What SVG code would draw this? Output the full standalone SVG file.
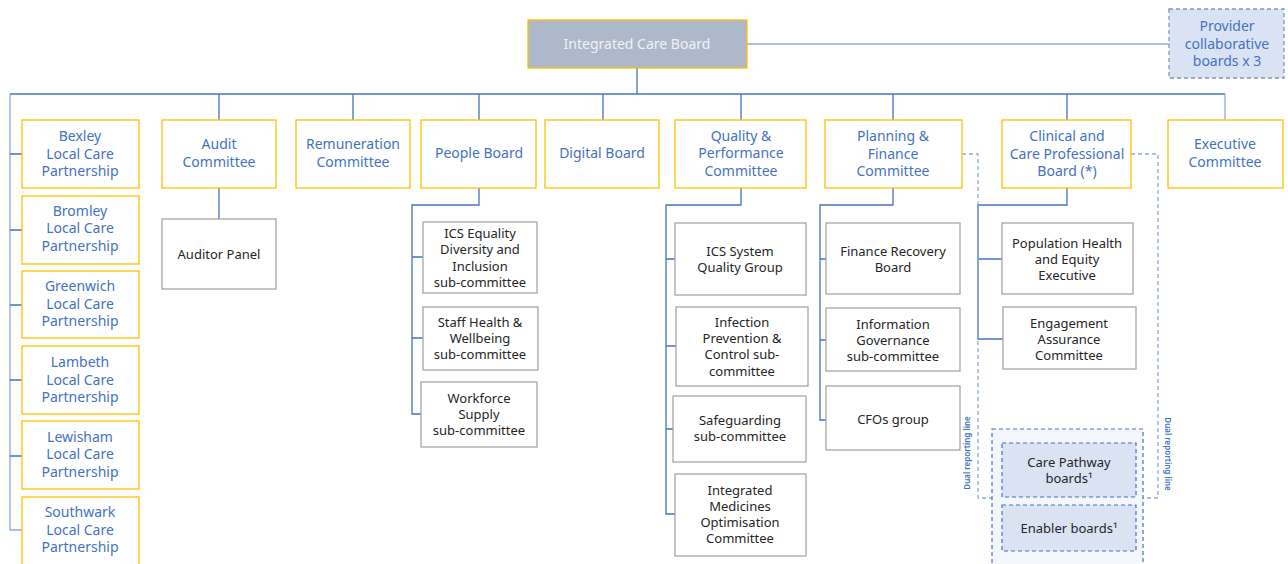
<svg xmlns="http://www.w3.org/2000/svg" width="1288" height="564" viewBox="0 0 1288 564">
  <style>
    text { font-family: "Noto Sans", "Liberation Sans", sans-serif; text-anchor: middle; }
    .top rect { fill: #ffffff; stroke: #ffc000; stroke-width: 1.3; }
    .top text { fill: #4472c4; font-size: 14px; }
    .sub rect { fill: #ffffff; stroke: #a6a6a6; stroke-width: 1.3; }
    .sub text { fill: #262626; font-size: 13px; }
    .link { fill: none; stroke: #4472c4; stroke-width: 1.3; }
    .soft { stroke: #8faadc; }
    .dash { fill: none; stroke: #8faadc; stroke-width: 1.3; stroke-dasharray: 4 3; }
    .side { fill: #4472c4; font-size: 8px; font-weight: 600; }
    .pale rect { fill: #dae3f3; stroke: #4472c4; stroke-width: 1.2; stroke-dasharray: 4 3; }
    .pale text { fill: #262626; font-size: 13px; }
  </style>

  <!-- connectors -->
  <g id="connectors">
    <path class="link" d="M637 68 V94"/>
    <path class="link soft" d="M747 44 H1169"/>
    <path class="link" d="M10 94 H1225"/>
    <path class="link soft" d="M10 94 V530 H22"/>
    <path class="link" d="M10 154 H22 M10 230 H22 M10 305 H22 M10 380 H22 M10 456 H22"/>
    <path class="link" d="M219 94 V120 M353 94 V120 M479 94 V120 M603 94 V120 M741 94 V120 M893 94 V120 M1067 94 V120"/>
    <path class="link soft" d="M1225 94 V120"/>
    <path class="link" d="M219 188 V219"/>
    <!-- People Board -->
    <path class="link" d="M479 188 V205 H412 V414 H421 M412 257 H423 M412 338 H423"/>
    <!-- Quality & Performance -->
    <path class="link" d="M741 188 V205 H666 V514 H675 M666 259 H675 M666 346 H676 M666 429 H673"/>
    <!-- Planning & Finance -->
    <path class="link" d="M893 188 V205 H820 V420 H826 M820 259 H826 M820 340 H826"/>
    <!-- Clinical and Care Professional -->
    <path class="link" d="M1067 188 V205 H978 V339 H1003 M978 259 H1002"/>
    <!-- dual reporting lines -->
    <path class="dash" d="M962 154 H978 V498 H992"/>
    <path class="dash" d="M1131 154 H1158 V498 H1143"/>
    <text class="side" transform="translate(970 453) rotate(-90)">Dual reporting line</text>
    <text class="side" transform="translate(1165 454) rotate(90)">Dual reporting line</text>
  </g>

  <g id="icb">
    <rect x="528" y="20" width="219" height="48" fill="#adb9ca" stroke="#ffc000" stroke-width="1.3"/>
    <text x="637" y="49" fill="#eef1f6" font-size="14">Integrated Care Board</text>
  </g>

  <g id="provider">
    <rect x="1169" y="9" width="115" height="69" fill="#dae3f3" stroke="#8497b0" stroke-width="1.3" stroke-dasharray="4 3"/>
    <text x="1227" y="31" fill="#4472c4" font-size="14">Provider</text>
    <text x="1227" y="48.5" fill="#4472c4" font-size="14">collaborative</text>
    <text x="1227" y="66" fill="#4472c4" font-size="14">boards x 3</text>
  </g>

  <!-- local care partnerships -->
  <g id="bexley" class="top">
    <rect x="22" y="120" width="117" height="68"/>
    <text x="80" y="141">Bexley</text><text x="80" y="159">Local Care</text><text x="80" y="176">Partnership</text>
  </g>
  <g id="bromley" class="top">
    <rect x="22" y="196" width="117" height="68"/>
    <text x="80" y="216">Bromley</text><text x="80" y="233">Local Care</text><text x="80" y="251">Partnership</text>
  </g>
  <g id="greenwich" class="top">
    <rect x="22" y="271" width="117" height="67"/>
    <text x="80" y="291">Greenwich</text><text x="80" y="309">Local Care</text><text x="80" y="326">Partnership</text>
  </g>
  <g id="lambeth" class="top">
    <rect x="22" y="346" width="117" height="68"/>
    <text x="80" y="367">Lambeth</text><text x="80" y="385">Local Care</text><text x="80" y="402">Partnership</text>
  </g>
  <g id="lewisham" class="top">
    <rect x="22" y="421" width="117" height="68"/>
    <text x="80" y="442">Lewisham</text><text x="80" y="459">Local Care</text><text x="80" y="477">Partnership</text>
  </g>
  <g id="southwark" class="top">
    <rect x="22" y="497" width="117" height="72"/>
    <text x="80" y="517">Southwark</text><text x="80" y="535">Local Care</text><text x="80" y="552">Partnership</text>
  </g>

  <!-- committees -->
  <g id="audit" class="top">
    <rect x="162" y="120" width="114" height="68"/>
    <text x="219" y="149">Audit</text><text x="219" y="167">Committee</text>
  </g>
  <g id="remuneration" class="top">
    <rect x="296" y="120" width="114" height="68"/>
    <text x="353" y="149">Remuneration</text><text x="353" y="167">Committee</text>
  </g>
  <g id="people" class="top">
    <rect x="421" y="120" width="115" height="68"/>
    <text x="479" y="158">People Board</text>
  </g>
  <g id="digital" class="top">
    <rect x="545" y="120" width="114" height="68"/>
    <text x="602" y="158">Digital Board</text>
  </g>
  <g id="quality" class="top">
    <rect x="675" y="120" width="131" height="68"/>
    <text x="741" y="141">Quality &amp;</text><text x="741" y="158">Performance</text><text x="741" y="176">Committee</text>
  </g>
  <g id="planning" class="top">
    <rect x="825" y="120" width="137" height="68"/>
    <text x="893" y="141">Planning &amp;</text><text x="893" y="159">Finance</text><text x="893" y="176">Committee</text>
  </g>
  <g id="clinical" class="top">
    <rect x="1002" y="120" width="129" height="68"/>
    <text x="1067" y="141">Clinical and</text><text x="1067" y="159">Care Professional</text><text x="1067" y="176">Board (*)</text>
  </g>
  <g id="executive" class="top">
    <rect x="1168" y="120" width="115" height="68"/>
    <text x="1225" y="149">Executive</text><text x="1225" y="167">Committee</text>
  </g>

  <!-- sub-groups -->
  <g id="auditor-panel" class="sub">
    <rect x="162" y="219" width="114" height="70"/>
    <text x="219" y="259">Auditor Panel</text>
  </g>
  <g id="ics-edi" class="sub">
    <rect x="423" y="222" width="114" height="71"/>
    <text x="480" y="238">ICS Equality</text><text x="480" y="254">Diversity and</text><text x="480" y="271">Inclusion</text><text x="480" y="287">sub-committee</text>
  </g>
  <g id="staff-health" class="sub">
    <rect x="423" y="307" width="115" height="63"/>
    <text x="480" y="327">Staff Health &amp;</text><text x="480" y="343">Wellbeing</text><text x="480" y="359">sub-committee</text>
  </g>
  <g id="workforce" class="sub">
    <rect x="421" y="382" width="116" height="65"/>
    <text x="479" y="403">Workforce</text><text x="479" y="419">Supply</text><text x="479" y="435">sub-committee</text>
  </g>
  <g id="ics-quality" class="sub">
    <rect x="675" y="223" width="131" height="72"/>
    <text x="740" y="256">ICS System</text><text x="740" y="272">Quality Group</text>
  </g>
  <g id="infection" class="sub">
    <rect x="676" y="307" width="132" height="79"/>
    <text x="742" y="327">Infection</text><text x="742" y="343">Prevention &amp;</text><text x="742" y="359">Control sub-</text><text x="742" y="376">committee</text>
  </g>
  <g id="safeguarding" class="sub">
    <rect x="673" y="396" width="133" height="66"/>
    <text x="740" y="425">Safeguarding</text><text x="740" y="441">sub-committee</text>
  </g>
  <g id="medicines" class="sub">
    <rect x="675" y="474" width="131" height="82"/>
    <text x="740" y="495">Integrated</text><text x="740" y="511">Medicines</text><text x="740" y="527">Optimisation</text><text x="740" y="543">Committee</text>
  </g>
  <g id="finance-recovery" class="sub">
    <rect x="826" y="223" width="134" height="71"/>
    <text x="893" y="256">Finance Recovery</text><text x="893" y="272">Board</text>
  </g>
  <g id="info-governance" class="sub">
    <rect x="826" y="308" width="134" height="63"/>
    <text x="893" y="329">Information</text><text x="893" y="345">Governance</text><text x="893" y="361">sub-committee</text>
  </g>
  <g id="cfos" class="sub">
    <rect x="826" y="386" width="134" height="64"/>
    <text x="893" y="424">CFOs group</text>
  </g>
  <g id="population-health" class="sub">
    <rect x="1002" y="223" width="131" height="71"/>
    <text x="1067" y="248">Population Health</text><text x="1067" y="264">and Equity</text><text x="1067" y="280">Executive</text>
  </g>
  <g id="engagement" class="sub">
    <rect x="1003" y="307" width="133" height="62"/>
    <text x="1069" y="328">Engagement</text><text x="1069" y="344">Assurance</text><text x="1069" y="360">Committee</text>
  </g>

  <!-- clinical boards container -->
  <g id="clinical-boards">
    <rect x="992" y="429" width="151" height="140" fill="#f3f6fb" stroke="#4472c4" stroke-width="1.2" stroke-dasharray="4 3"/>
  </g>
  <g id="care-pathway" class="pale">
    <rect x="1002" y="443" width="134" height="54"/>
    <text x="1069" y="467">Care Pathway</text><text x="1069" y="483">boards¹</text>
  </g>
  <g id="enabler" class="pale">
    <rect x="1002" y="505" width="134" height="46"/>
    <text x="1069" y="533">Enabler boards¹</text>
  </g>
</svg>
